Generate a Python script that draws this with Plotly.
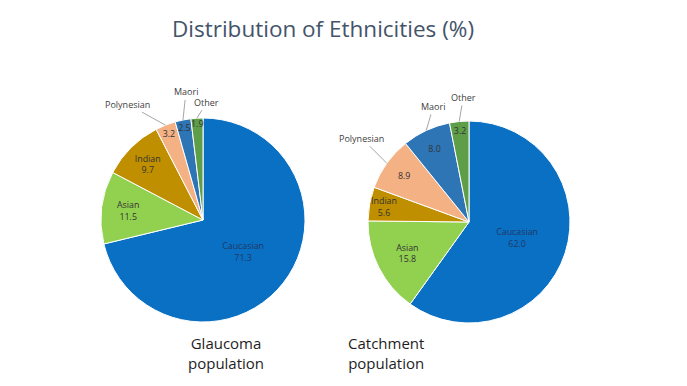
import math
import plotly.graph_objects as go

categories = ["Caucasian", "Asian", "Indian", "Polynesian", "Maori", "Other"]
glaucoma_values = [71.3, 11.5, 9.7, 3.2, 2.5, 1.9]
catchment_values = [62.0, 15.8, 5.6, 8.9, 8.0, 3.2]
slice_colors = ["#0A70C4", "#92D050", "#BF8F00", "#F4B183", "#2E75B6", "#5E9E48"]
outside_label_cats = ["Polynesian", "Maori", "Other"]
title_text = "Distribution of Ethnicities (%)"
panel_titles = ["Glaucoma<br>population", "Catchment<br>population"]

PAGE_OFF = 8                      # default HTML body margin
W, H = 687 - PAGE_OFF, 386 - PAGE_OFF
FONT = "Open Sans"

fig = go.Figure()

def px(x):  # reference-page pixel -> paper fraction
    return (x - PAGE_OFF) / W

def py(y):
    return 1 - (y - PAGE_OFF) / H

def add_pie(values, cx, cy, r, label_offsets):
    dom_x = [px(cx - r), px(cx + r)]
    dom_y = [py(cy + r), py(cy - r)]
    inside_tpl = ["%{value:.1f}" if c in outside_label_cats else "%{label}<br>%{value:.1f}" for c in categories]
    inside_col = ["#1F3864" if c == "Caucasian" else "#333333" for c in categories]
    fig.add_trace(go.Pie(
        labels=categories, values=values, sort=False, direction="clockwise",
        marker=dict(colors=slice_colors, line=dict(color="white", width=1)),
        texttemplate=inside_tpl, textposition="inside",
        insidetextorientation="horizontal",
        insidetextfont=dict(family=FONT, size=9, color=inside_col),
        domain=dict(x=dom_x, y=dom_y), hoverinfo="skip", showlegend=False,
    ))
    # outside category labels with leader lines pointing to slice rims
    total = sum(values)
    cum = 0.0
    for c, v in zip(categories, values):
        mid = (cum + v / 2) / total * 2 * math.pi
        cum += v
        if c not in outside_label_cats:
            continue
        rx = cx + r * math.sin(mid)
        ry = cy - r * math.cos(mid)
        ax, ay = label_offsets[c]
        fig.add_annotation(
            text=c, x=px(rx), y=py(ry), xref="paper", yref="paper",
            showarrow=True, arrowhead=0, arrowwidth=1, arrowcolor="#A6A6A6",
            ax=ax, ay=ay, standoff=0, startstandoff=0,
            font=dict(family=FONT, size=9, color="#404040"),
        )

add_pie(glaucoma_values, 203, 220, 102,
        {"Polynesian": (-38, -21), "Maori": (3, -28), "Other": (10, -16)})
add_pie(catchment_values, 469, 222, 101,
        {"Polynesian": (-25, -25), "Maori": (7, -24), "Other": (4, -24)})

fig.add_annotation(text=title_text, x=px(323), y=py(28), xref="paper", yref="paper",
                   xanchor="center", yanchor="middle",
                   showarrow=False, font=dict(family=FONT, size=22.5, color="#44546A"))
for t, xc in zip(panel_titles, [226, 386]):
    fig.add_annotation(text=t, x=px(xc), y=py(353), xref="paper", yref="paper",
                       xanchor="center", yanchor="middle",
                       showarrow=False, font=dict(family=FONT, size=15, color="#1E1E1E"))

fig.update_layout(width=W, height=H, margin=dict(l=0, r=0, t=0, b=0),
                  paper_bgcolor="white", plot_bgcolor="white",
                  uniformtext=dict(minsize=8, mode="show"))
fig.write_html("out.html")
